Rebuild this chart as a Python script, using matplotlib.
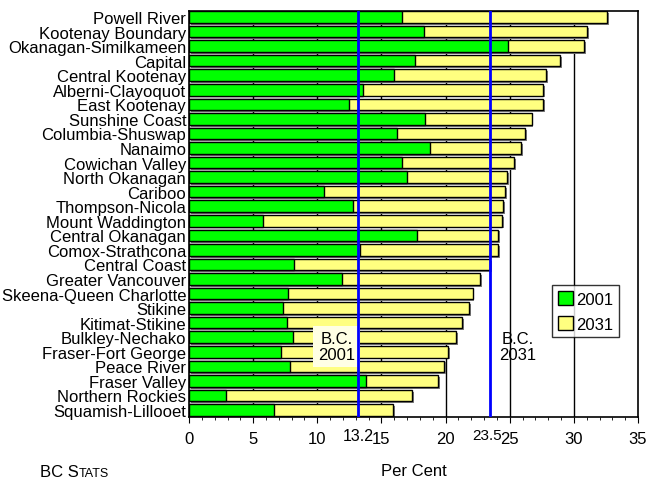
import numpy as np
import matplotlib.pyplot as plt
from matplotlib.patches import Patch

plt.rcParams['font.family'] = ['Liberation Sans', 'DejaVu Sans']

# Regional districts, top to bottom
regions = ['Powell River', 'Kootenay Boundary', 'Okanagan-Similkameen', 'Capital',
           'Central Kootenay', 'Alberni-Clayoquot', 'East Kootenay', 'Sunshine Coast',
           'Columbia-Shuswap', 'Nanaimo', 'Cowichan Valley', 'North Okanagan',
           'Cariboo', 'Thompson-Nicola', 'Mount Waddington', 'Central Okanagan',
           'Comox-Strathcona', 'Central Coast', 'Greater Vancouver',
           'Skeena-Queen Charlotte', 'Stikine', 'Kitimat-Stikine', 'Bulkley-Nechako',
           'Fraser-Fort George', 'Peace River', 'Fraser Valley', 'Northern Rockies',
           'Squamish-Lillooet']

# Per cent, 2001 and 2031
pct_2001 = [16.6, 18.3, 24.9, 17.6, 16.0, 13.6, 12.5, 18.4, 16.2, 18.8, 16.6, 17.0,
            10.5, 12.8, 5.8, 17.8, 13.3, 8.2, 11.9, 7.7, 7.3, 7.6, 8.1, 7.2, 7.9,
            13.8, 2.9, 6.6]
pct_2031 = [32.6, 31.0, 30.8, 28.9, 27.8, 27.6, 27.6, 26.7, 26.2, 25.9, 25.3, 24.8,
            24.6, 24.5, 24.4, 24.1, 24.1, 23.5, 22.7, 22.1, 21.8, 21.3, 20.8, 20.2,
            19.9, 19.4, 17.4, 15.9]

bc_2001 = 13.2
bc_2031 = 23.5

green = '#00ff00'
yellow = '#ffff80'

fig = plt.figure(figsize=(6.48, 4.81), dpi=100)
ax = fig.add_axes([0.2917, 0.131, 0.6929, 0.844])

y = np.arange(len(regions))
h = 0.8

# gridlines behind the bars
for gx in range(5, 35, 5):
    ax.axvline(gx, color='black', lw=1, zorder=0)

# shadows
ax.barh(y + 0.13, pct_2031, height=h, left=0.15, color='#7f7f7f', zorder=1)
ax.barh(y + 0.13, pct_2001, height=h, left=0.15, color='#7f7f7f', zorder=1)
# bars
ax.barh(y, pct_2031, height=h, color=yellow, edgecolor='black', lw=1, zorder=2)
ax.barh(y, pct_2001, height=h, color=green, edgecolor='black', lw=1, zorder=3)

# B.C. averages
ax.axvline(bc_2001, color='#0000ff', lw=2, zorder=6)
ax.axvline(bc_2031, color='#0000ff', lw=2, zorder=6)
ax.text(11.5, 22.65, 'B.C.\n2001', ha='center', va='center', fontsize=12,
        linespacing=1.05, zorder=5,
        bbox=dict(boxstyle='square,pad=0.3', fc='#ffffe4', ec='none'))
ax.text(25.6, 22.65, 'B.C.\n2031', ha='center', va='center', fontsize=12,
        linespacing=1.05, zorder=5)

ax.set_xlim(0, 35)
ax.set_ylim(len(regions) - 0.52, -0.41)
ax.set_xticks(range(0, 36, 5))
ax.set_xticks(range(0, 36), minor=True)
ax.set_yticks(y)
ax.set_yticklabels(regions, fontsize=12)
ax.tick_params(axis='y', length=0, pad=2)
ax.tick_params(axis='x', which='major', length=4, labelsize=12, pad=6)
ax.tick_params(axis='x', which='minor', length=2.5)
for s in ax.spines.values():
    s.set_linewidth(1.2)

ax.text(bc_2001, -0.045, '13.2', transform=ax.get_xaxis_transform(),
        ha='center', va='center', fontsize=11.5)
ax.text(bc_2031 - 0.3, -0.045, '23.5', transform=ax.get_xaxis_transform(),
        ha='center', va='center', fontsize=11)

ax.set_xlabel('Per Cent', fontsize=12, labelpad=12)

handles = [Patch(fc=green, ec='black'), Patch(fc=yellow, ec='black')]
leg = fig.legend(handles, ['2001', '2031'], loc='upper left',
                 bbox_to_anchor=(0.852, 0.405), fontsize=12, frameon=True,
                 fancybox=False, handlelength=0.9, handleheight=0.9,
                 handletextpad=0.2, borderpad=0.35, labelspacing=0.55,
                 borderaxespad=0)
leg.get_frame().set_edgecolor('black')
leg.get_frame().set_linewidth(1)

t1 = fig.text(40 / 648, 1 - 477 / 481, 'BC S', fontsize=12, va='baseline')
ax.annotate('TATS', xy=(1, 0), xycoords=t1, va='bottom', fontsize=9,
            annotation_clip=False)

fig.savefig('out.png', dpi=100)
